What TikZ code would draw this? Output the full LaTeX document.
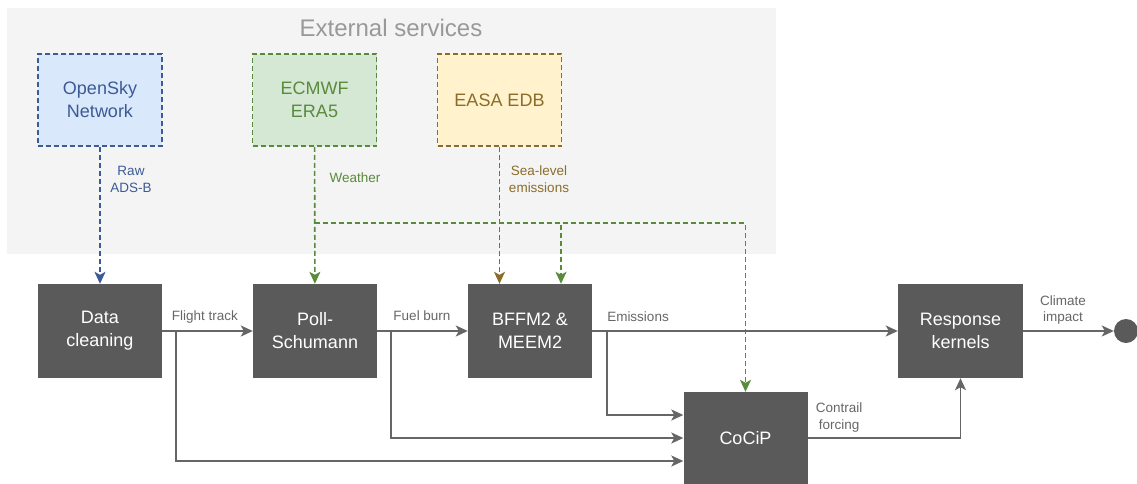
\documentclass[tikz,border=0pt]{standalone}
\usepackage{fontspec}
\setmainfont{Liberation Sans}
\usetikzlibrary{arrows.meta,calc}

\definecolor{boxgray}{HTML}{5A5A5A}
\definecolor{linegray}{HTML}{666666}
\definecolor{bgpanel}{HTML}{F4F4F4}
\definecolor{osblue}{HTML}{3C5A96}
\definecolor{osfill}{HTML}{DAE8FC}
\definecolor{ecgreen}{HTML}{5A8A3C}
\definecolor{ecfill}{HTML}{D5E8D4}
\definecolor{edbbrown}{HTML}{8A6D2B}
\definecolor{edbfill}{HTML}{FFF2CC}

\tikzset{
  model/.style={fill=boxgray, text=white, minimum width=124pt, minimum height=94pt,
    align=center, font=\fontsize{18}{23}\selectfont},
  service/.style 2 args={draw=#1, fill=#2, text=#1, line width=1.5pt,
    dash pattern=on 5pt off 3pt, minimum width=124pt, minimum height=92pt,
    align=center, font=\fontsize{18}{23}\selectfont},
  lbl/.style={align=center, font=\fontsize{13.5}{17}\selectfont},
  flow/.style={draw=linegray, line width=1.6pt, -{Stealth[length=12pt,width=11pt,inset=3pt]}},
  feed/.style={draw=#1, line width=1.6pt, dash pattern=on 5pt off 3pt,
    -{Stealth[length=12pt,width=11pt,inset=3pt]}},
}

\begin{document}
\begin{tikzpicture}[x=1pt, y=-1pt]

\useasboundingbox (0,0) rectangle (1137,483);

% external data sources
\fill[bgpanel] (7,8) rectangle (776,254);
\node[text=black!40, font=\fontsize{24}{28}\selectfont] (ext) at (391,28) {External services};

\node[service={osblue}{osfill}] (osky) at (100,100) {OpenSky\\Network};
\node[service={ecgreen}{ecfill}] (ecmwf) at (314.5,100) {ECMWF\\ERA5};
\node[service={edbbrown}{edbfill}] (easa) at (499.5,100) {EASA EDB};

% processing chain
\node[model] (clean) at (100,331) {Data\\cleaning};
\node[model] (poll) at (315,331) {Poll-\\Schumann};
\node[model] (bffm) at (530,331) {BFFM2 \&\\MEEM2};
\node[model, minimum height=92pt] (cocip) at (745.5,438) {CoCiP};
\node[model, minimum width=125pt] (resp) at (960.5,331) {Response\\kernels};
\node[circle, fill=boxgray, minimum size=24pt, inner sep=0pt] (impact) at (1126,331) {};

% inputs from outside
\draw[feed=osblue] (osky) -- (clean);
\node[lbl, text=osblue] (adsb) at (131,179) {Raw\\ADS-B};

\draw[feed=ecgreen] (ecmwf) -- (poll);
\node[lbl, text=ecgreen] (wx) at (355,178) {Weather};
\coordinate (wxsplit) at (315,223);
\draw[feed=ecgreen] (wxsplit) -| ([xshift=31pt]bffm.north);
\draw[feed=ecgreen] (wxsplit) -| (cocip.north);

\draw[feed=edbbrown] (easa.south) -- (easa.south |- bffm.north);
\node[lbl, text=edbbrown] (sls) at (539,179) {Sea-level\\emissions};

% model chain
\draw[flow] (clean) -- (poll);
\node[lbl, text=linegray] (trk) at (205,317) {Flight track};
\draw[flow] (poll) -- (bffm);
\node[lbl, text=linegray] (fuel) at (422,316) {Fuel burn};
\draw[flow] (bffm) -- (resp);
\node[lbl, text=linegray] (emi) at (638,317) {Emissions};

\draw[flow] ($(clean.east)+(14,0)$) |- ([yshift=-23pt]cocip.west);
\draw[flow] ($(poll.east)+(14,0)$) |- (cocip.west);
\draw[flow] ($(bffm.east)+(15,0)$) |- ([yshift=23pt]cocip.west);

\draw[flow] (cocip.east) -| (resp.south);
\node[lbl, text=linegray] (cf) at (839,417) {Contrail\\forcing};

\draw[flow] (resp) -- (impact);
\node[lbl, text=linegray] (clim) at (1063,310) {Climate\\impact};

\end{tikzpicture}
\end{document}
